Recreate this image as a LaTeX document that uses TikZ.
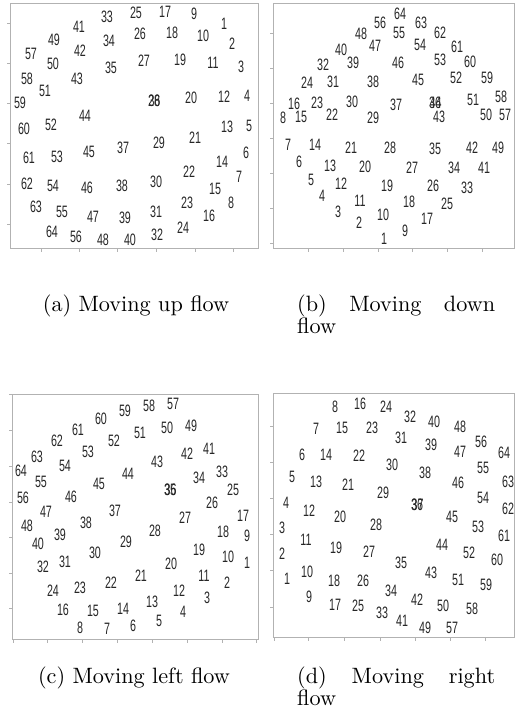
\documentclass[tikz,border=0pt]{standalone}
\usepackage{fontspec}
\newfontfamily\numfont[FakeStretch=0.65]{Liberation Sans}
\newfontfamily\capfont{lmroman10-regular}[Extension=.otf]
\begin{document}
\begin{tikzpicture}[x=1pt,y=-1pt,
  num/.style={font=\numfont\fontsize{16.5}{16.5}\selectfont, inner sep=0pt, text=black!85},
  panelframe/.style={draw=gray!60, line width=0.9pt},
  tickmark/.style={draw=gray!60, line width=0.7pt},
  captext/.style={font=\capfont\fontsize{22.2}{26}\selectfont, inner sep=0pt, anchor=base},
  capbox/.style={font=\capfont\fontsize{22.2}{22.5}\selectfont, inner sep=0pt, anchor=base west}]
\useasboundingbox (0,0) rectangle (515,728);
% ---------- frames ----------
\draw[panelframe] (10,3) rectangle (258,248);
\draw[panelframe] (273,3) rectangle (514,248);
\draw[panelframe] (12,394) rectangle (258,639);
\draw[panelframe] (273,393) rectangle (514,637);
% ---------- ticks ----------
\foreach \t in {23,63,103,143,184,224} \draw[tickmark] (10,\t) -- (7,\t);
\foreach \t in {41,79,117,156,195,233} \draw[tickmark] (\t,248) -- (\t,252);
\foreach \t in {33,68,103,138,173,208,243} \draw[tickmark] (273,\t) -- (270,\t);
\foreach \t in {308,343,378,412,447,482} \draw[tickmark] (\t,248) -- (\t,252);
\foreach \t in {394,430,466,502,537,573,608} \draw[tickmark] (12,\t) -- (9,\t);
\foreach \t in {13,47,82,117,152,187,222,256} \draw[tickmark] (\t,639) -- (\t,643);
\foreach \t in {426,462,498,534,570,607} \draw[tickmark] (273,\t) -- (270,\t);
\foreach \t in {274,308,344,380,415,450,485} \draw[tickmark] (\t,637) -- (\t,641);
% ---------- (a) moving up ----------
\foreach \n/\x/\y in {1/224/24, 2/232/44, 3/241/67, 4/247/96, 5/249/126, 6/246/153, 7/239/177, 8/231/203,
  9/194/14, 10/203/36, 11/213/63, 12/224/97, 13/227/127, 14/222/162, 15/215/189, 16/209/216,
  17/165/12, 18/172/33, 19/180/60, 20/191/98, 21/195/138, 22/189/172, 23/187/203, 24/183/228,
  25/136/13, 26/140/34, 27/144/61, 28/154/101, 29/159/143, 30/156/182, 31/156/212, 32/157/235,
  33/107/17, 34/109/41, 35/111/68, 36/154.5/101, 37/123/148, 38/122/186, 39/125/218, 40/130/240,
  41/79/27, 42/80/51, 43/77/79, 44/85/116, 45/89/152, 46/87/188, 47/93/217, 48/103/240,
  49/54/40, 50/53/64, 51/45/91, 52/51/125, 53/57/157, 54/53/186, 55/62/212, 56/76/237,
  57/31/54, 58/27/79, 59/20/103, 60/24/129, 61/29/158, 62/27/184, 63/36/207, 64/52/232}
  \node[num] (a\n) at (\x,\y) {\n};
% ---------- (b) moving down ----------
\foreach \n/\x/\y in {1/384/239, 2/359/223, 3/338/212, 4/322/196, 5/311/180, 6/299/162, 7/288/145, 8/283/118,
  9/405/231, 10/383/215, 11/360/201, 12/341/184, 13/330/166, 14/315/145, 15/301/117, 16/294/104,
  17/427/219, 18/409/202, 19/387/186, 20/365/167, 21/351/148, 22/332/115, 23/317/103, 24/307/83,
  25/447/204, 26/433/186, 27/412/168, 28/390/148, 29/373/118, 30/352/102, 31/333/82, 32/323/65,
  33/467/188, 34/454/168, 35/435/149, 36/435/103, 37/396/105, 38/373/82, 39/353/63, 40/341/50,
  41/484/168, 42/472/148, 43/439/117, 44/435.5/103, 45/418/80, 46/398/63, 47/375/46, 48/361/34,
  49/498/148, 50/486/115, 51/473/100, 52/456/78, 53/440/60, 54/420/45, 55/399/33, 56/380/23,
  57/505/115, 58/501/97, 59/487/78, 60/470/62, 61/457/47, 62/440/33, 63/421/23, 64/400/14}
  \node[num] (b\n) at (\x,\y) {\n};
% ---------- (c) moving left ----------
\foreach \n/\x/\y in {1/247/563, 2/227/583, 3/207/598, 4/183/612, 5/159/621, 6/133/626, 7/107/629, 8/80/628,
  9/247/536, 10/228/557, 11/204/576, 12/179/591, 13/152/602, 14/123/609, 15/93/611, 16/63/610,
  17/243/516, 18/223/532, 19/199/550, 20/171/564, 21/141/576, 22/111/583, 23/80/588, 24/53/591,
  25/233/490, 26/212/503, 27/185/518, 28/155/531, 29/126/542, 30/95/553, 31/65/562, 32/43/567,
  33/222/472, 34/199/478, 35/170/490, 36/170.5/490, 37/115/511, 38/86/523, 39/60/535, 40/38/544,
  41/209/449, 42/187/454, 43/157/462, 44/128/474, 45/99/484, 46/71/497, 47/46/512, 48/27/526,
  49/191/426, 50/167/428, 51/140/433, 52/114/441, 53/88/452, 54/65/466, 55/41/482, 56/23/498,
  57/173/404, 58/149/406, 59/125/411, 60/101/419, 61/78/430, 62/57/441, 63/37/457, 64/21/471}
  \node[num] (c\n) at (\x,\y) {\n};
% ---------- (d) moving right ----------
\foreach \n/\x/\y in {1/287/579, 2/282/554, 3/282/528, 4/286/503, 5/292/477, 6/302/455, 7/316/429, 8/335/407,
  9/309/597, 10/307/572, 11/306/540, 12/309/511, 13/316/482, 14/326/455, 15/342/428, 16/360/404,
  17/335/605, 18/334/581, 19/336/548, 20/340/517, 21/348/485, 22/359/456, 23/372/428, 24/386/407,
  25/358/606, 26/363/581, 27/369/552, 28/376/525, 29/383/493, 30/392/465, 31/401/438, 32/410/417,
  33/382/613, 34/391/591, 35/401/563, 36/417/505, 37/417.5/505, 38/425/473, 39/431/445, 40/434/422,
  41/402/621, 42/417/600, 43/431/573, 44/442/545, 45/452/517, 46/458/483, 47/460/452, 48/460/427,
  49/425/628, 50/443/606, 51/458/580, 52/469/553, 53/478/527, 54/483/498, 55/483/468, 56/481/442,
  57/452/628, 58/472/609, 59/486/585, 60/497/560, 61/504/536, 62/508/509, 63/508/482, 64/504/453}
  \node[num] (d\n) at (\x,\y) {\n};
% ---------- captions ----------
\node[captext] (capa) at (136,311) {(a) Moving up flow};
\node[capbox] (capb) at (297,311) {\parbox[t]{198pt}{\hyphenpenalty=10000\tolerance=10000\hbadness=10000 (b) Moving down flow}};
\node[captext] (capc) at (134,683) {(c) Moving left flow};
\node[capbox] (capd) at (297,683) {\parbox[t]{198pt}{\hyphenpenalty=10000\tolerance=10000\hbadness=10000 (d) Moving right flow}};
\end{tikzpicture}
\end{document}
